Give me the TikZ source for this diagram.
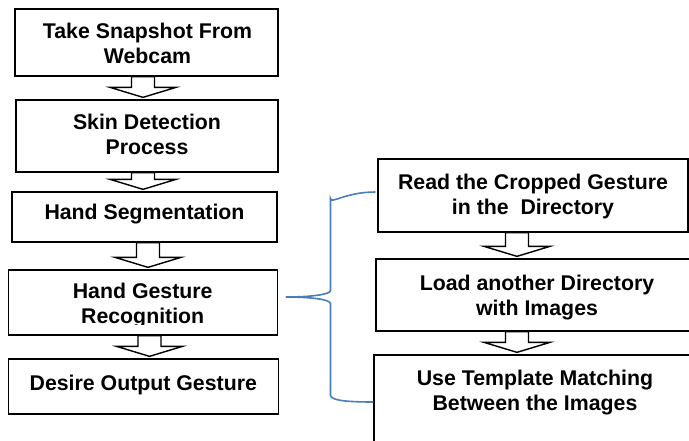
\documentclass[tikz,border=0pt]{standalone}
\usepackage{fontspec}
\setmainfont{Liberation Sans}
\usetikzlibrary{calc}
\definecolor{braceblue}{HTML}{4A7EBB}
\tikzset{
  box/.style={draw=black, line width=1.3pt, fill=white, inner sep=0pt},
  lbl/.style={font=\bfseries\fontsize{21.3}{25}\selectfont, align=center, inner sep=0pt, anchor=base},
  blockarrow/.style={draw=black, line width=1.4pt, fill=white, line join=miter},
  bracepath/.style={draw=braceblue, line width=1.6pt}
}
\newcommand\barrow[3]{%
  \coordinate (ax) at (#3pt,0);
  \draw[blockarrow]
    ($(ax |- #1.south)+(-11.5pt,0)$) --
    ($(ax |- #1.south)+(11.5pt,0)$) --
    ($(ax |- #2.north)+(11.5pt,12pt)$) --
    ($(ax |- #2.north)+(33pt,12pt)$) --
    ($(ax |- #2.north)+(0,2pt)$) --
    ($(ax |- #2.north)+(-33pt,12pt)$) --
    ($(ax |- #2.north)+(-11.5pt,12pt)$) -- cycle;
}
\begin{document}
\begin{tikzpicture}[x=1pt,y=1pt]
\useasboundingbox (0,0) rectangle (689,-440);
\clip (0,0) rectangle (689,-440);
% left column
\node[box, minimum width=263pt, minimum height=67pt] (A) at (146.5,-42.5) {};
\node[lbl] (At) at (147.5,-63) {Take Snapshot From\\Webcam};
\node[box, minimum width=262pt, minimum height=72pt] (B) at (147,-136) {};
\node[lbl] (Bt) at (147,-154.5) {Skin Detection\\Process};
\node[box, minimum width=265pt, minimum height=50pt] (C) at (144.5,-217) {};
\node[lbl] (Ct) at (144.5,-219.5) {Hand Segmentation};
\node[box, minimum width=269pt, minimum height=65pt] (D) at (142.7,-302.5) {};
\begin{scope}
  \clip (0,-270) rectangle (300,-324.3);
  \node[lbl] (Dt) at (142.7,-323) {Hand Gesture\\Recognition};
\end{scope}
\node[box, minimum width=270pt, minimum height=55pt] (E) at (143.3,-386.5) {};
\node[lbl] (Et) at (143.3,-390) {Desire Output Gesture};
% right column
\node[box, minimum width=310pt, minimum height=73pt] (R1) at (533,-195.5) {};
\node[lbl] (R1t) at (533,-214) {Read the Cropped Gesture\\in the~~Directory};
\node[box, minimum width=322pt, minimum height=72pt] (R2) at (537,-295) {};
\node[lbl] (R2t) at (537,-315) {Load another Directory\\with Images};
\node[box, minimum width=324pt, minimum height=120pt] (R3) at (536,-415) {};
\node[lbl] (R3t) at (535,-410) {Use Template Matching\\Between the Images};
% block arrows
\barrow{A}{B}{143}
\barrow{B}{C}{143}
\barrow{C}{D}{148}
\barrow{D}{E}{149.5}
\barrow{R1}{R2}{517}
\barrow{R2}{R3}{517}
% brace
\coordinate (bt) at ($(D.east)+(8,5.5)$);
\coordinate (b1) at ($(R1.west)+(-2,3.5)$);
\coordinate (b3) at ($(R3.west |- 0,-402)$);
\draw[bracepath] (bt) .. controls +(25,0) and +(0,-4) .. (330.5,-290.5)
  -- (330.5,-198.5) .. controls +(0,-6) and +(-30,0) .. (b1);
\draw[bracepath] (bt) .. controls +(25,0) and +(0,4) .. (330.5,-303.5)
  -- (330.5,-395) .. controls +(0,-5) and +(-30,0) .. (b3);
\end{tikzpicture}
\end{document}
